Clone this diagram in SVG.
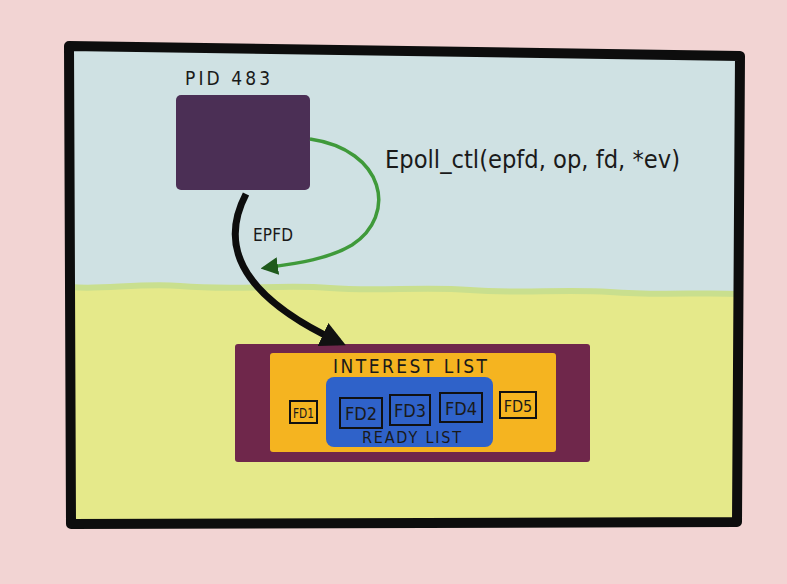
<svg xmlns="http://www.w3.org/2000/svg" width="787" height="584" viewBox="0 0 787 584">
<defs>
<style>
.t{font-family:"DejaVu Sans Condensed","DejaVu Sans","Liberation Sans",sans-serif;fill:#1a1a1a}
.fd{fill:none;stroke:#111;stroke-width:2}
</style>
<marker id="ag" viewBox="0 0 10 10" refX="8" refY="5" markerWidth="5" markerHeight="5" orient="auto" markerUnits="strokeWidth"><path d="M0,0 L10,5 L0,10 Z" fill="#1f5a1c"/></marker>
<marker id="ab" viewBox="0 0 10 10" refX="7" refY="5" markerWidth="3.6" markerHeight="3.6" orient="auto" markerUnits="strokeWidth"><path d="M0,0 L10,5 L0,10 Z" fill="#111"/></marker>
</defs>
<rect width="787" height="584" fill="#f2d4d3"/>
<g id="frame">
<path d="M69,46 L740,56 L737,522 L71,524 Z" fill="#e5e98a"/>
<path d="M69,46 L740,56 L739,294 C700,292 660,296 610,292 C560,289 520,294 470,290 C420,286 380,292 330,288 C280,284 240,291 180,286 C140,283 100,290 71,287 Z" fill="#cfe1e3"/>
<path d="M71,287 C100,290 140,283 180,286 C240,291 280,284 330,288 C380,292 420,286 470,290 C520,294 560,289 610,292 C660,296 700,292 739,294" fill="none" stroke="#c9df8e" stroke-width="6"/>
<path d="M69,46 L740,56 L737,522 L71,524 Z" fill="none" stroke="#0d0d0d" stroke-width="10" stroke-linejoin="round"/>
</g>
<g id="pid">
<rect x="176" y="95" width="134" height="95" rx="5" fill="#4b2f55"/>
<text class="t" x="185" y="85" font-size="19" textLength="85" lengthAdjust="spacing">PID 483</text>
</g>
<g id="kernel">
<rect x="235" y="344" width="355" height="118" rx="3" fill="#6f274b"/>
<rect x="270" y="353" width="286" height="99" rx="3" fill="#f5b420"/>
<text class="t" x="333" y="373" font-size="19" textLength="154" lengthAdjust="spacing">INTEREST LIST</text>
<rect x="326" y="377" width="167" height="70" rx="8" fill="#2f62c9"/>
<text class="t" x="362" y="443" font-size="16" textLength="99" lengthAdjust="spacing">READY LIST</text>
</g>
<g id="fd1"><rect class="fd" x="290" y="401" width="27" height="22"/><text class="t" x="303.5" y="418" font-size="14" text-anchor="middle" textLength="21" lengthAdjust="spacingAndGlyphs">FD1</text></g>
<g id="fd2"><rect class="fd" x="340" y="398" width="42" height="30"/><text class="t" x="361" y="420" font-size="18" text-anchor="middle">FD2</text></g>
<g id="fd3"><rect class="fd" x="390" y="395" width="40" height="30"/><text class="t" x="410" y="417" font-size="18" text-anchor="middle">FD3</text></g>
<g id="fd4"><rect class="fd" x="440" y="393" width="42" height="29"/><text class="t" x="461" y="415" font-size="18" text-anchor="middle">FD4</text></g>
<g id="fd5"><rect class="fd" x="500" y="392" width="36" height="26"/><text class="t" x="518" y="412" font-size="16" text-anchor="middle">FD5</text></g>
<g id="connectors">
<path d="M310,139 C385,150 398,215 352,245 C327,260 292,264 264,268" fill="none" stroke="#3f9a3a" stroke-width="3.5" marker-end="url(#ag)"/>
<path d="M246,194 C222,240 232,292 339,342" fill="none" stroke="#0d0d0d" stroke-width="7" marker-end="url(#ab)"/>
<text class="t" x="253" y="241" font-size="17" textLength="40" lengthAdjust="spacing">EPFD</text>
<text class="t" x="385" y="168" font-size="25" textLength="295" lengthAdjust="spacingAndGlyphs">Epoll_ctl(epfd, op, fd, *ev)</text>
</g>
</svg>
